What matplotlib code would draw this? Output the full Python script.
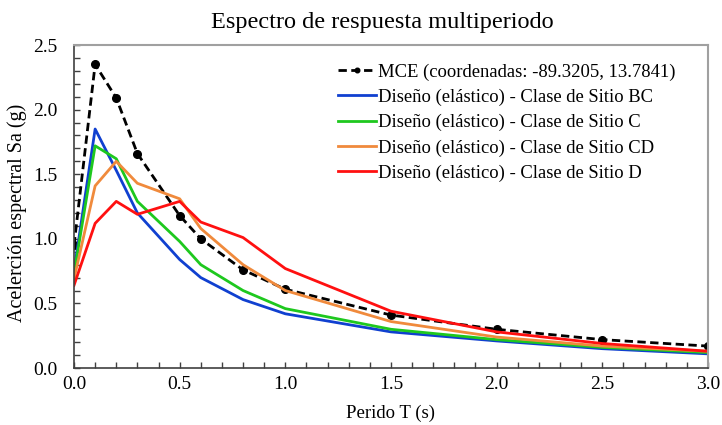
import matplotlib
matplotlib.use("Agg")
import matplotlib.pyplot as plt
from matplotlib.ticker import MultipleLocator, FormatStrFormatter

plt.rcParams['font.family'] = ['Liberation Serif', 'DejaVu Serif']

# Periods (s)
periods = [0.0, 0.1, 0.2, 0.3, 0.5, 0.6, 0.8, 1.0, 1.5, 2.0, 2.5, 3.0]

# Spectral accelerations Sa (g)
mce = [0.95, 2.35, 2.09, 1.66, 1.18, 1.00, 0.76, 0.61, 0.41, 0.30, 0.22, 0.17]
sitio_bc = [0.75, 1.85, 1.53, 1.20, 0.84, 0.70, 0.53, 0.42, 0.28, 0.21, 0.15, 0.11]
sitio_c = [0.73, 1.72, 1.62, 1.29, 0.98, 0.80, 0.60, 0.46, 0.30, 0.22, 0.16, 0.12]
sitio_cd = [0.69, 1.41, 1.60, 1.43, 1.31, 1.08, 0.80, 0.60, 0.36, 0.24, 0.17, 0.13]
sitio_d = [0.64, 1.12, 1.29, 1.19, 1.29, 1.13, 1.01, 0.77, 0.44, 0.28, 0.19, 0.13]

labels = [
    "MCE (coordenadas: -89.3205, 13.7841)",
    "Diseño (elástico) - Clase de Sitio BC",
    "Diseño (elástico) - Clase de Sitio C",
    "Diseño (elástico) - Clase de Sitio CD",
    "Diseño (elástico) - Clase de Sitio D",
]

fig = plt.figure(figsize=(7.22, 4.25), dpi=100)
ax = fig.add_axes([0.1025, 0.134, 0.878, 0.76])

ax.plot(periods, mce, color='black', ls=(0, (3, 1.6)), lw=2.0,
        marker='o', ms=5.5, label=labels[0])
ax.plot(periods, sitio_bc, color='#1040d0', lw=2.0, label=labels[1])
ax.plot(periods, sitio_c, color='#1ec81e', lw=2.0, label=labels[2])
ax.plot(periods, sitio_cd, color='#f08a3c', lw=2.0, label=labels[3])
ax.plot(periods, sitio_d, color='#ff1010', lw=2.0, label=labels[4])

ax.set_xlim(0, 3.0)
ax.set_ylim(0, 2.5)
ax.xaxis.set_major_locator(MultipleLocator(0.5))
ax.xaxis.set_minor_locator(MultipleLocator(0.1))
ax.yaxis.set_major_locator(MultipleLocator(0.5))
ax.yaxis.set_minor_locator(MultipleLocator(0.1))
ax.xaxis.set_major_formatter(FormatStrFormatter('%.1f'))
ax.yaxis.set_major_formatter(FormatStrFormatter('%.1f'))

ax.tick_params(which='both', direction='in', length=4, width=1, color='#404040',
               labelsize=14)
ax.tick_params(axis='x', which='both', pad=6)
ax.tick_params(axis='y', which='both', pad=12)

for side in ['left', 'bottom']:
    ax.spines[side].set_color('#404040')
    ax.spines[side].set_linewidth(1.2)
for side in ['top', 'right']:
    ax.spines[side].set_color('#a0a0a0')
    ax.spines[side].set_linewidth(1.5)

fig.text(0.529, 1 - 28 / 425, "Espectro de respuesta multiperiodo",
         fontsize=17.5, ha='center', va='baseline')
ax.set_xlabel("Perido T (s)", fontsize=13.5, labelpad=8)
ax.set_ylabel("Acelerción espectral Sa (g)", fontsize=14.5)
ax.yaxis.set_label_coords(-0.074, 0.48)

ax.legend(loc='upper left', bbox_to_anchor=(0.39, 0.995), frameon=False,
          fontsize=13.4, handlelength=2.05, handletextpad=0.1, labelspacing=0.43,
          numpoints=1, markerscale=0.6)

fig.savefig("out.png", dpi=100)
